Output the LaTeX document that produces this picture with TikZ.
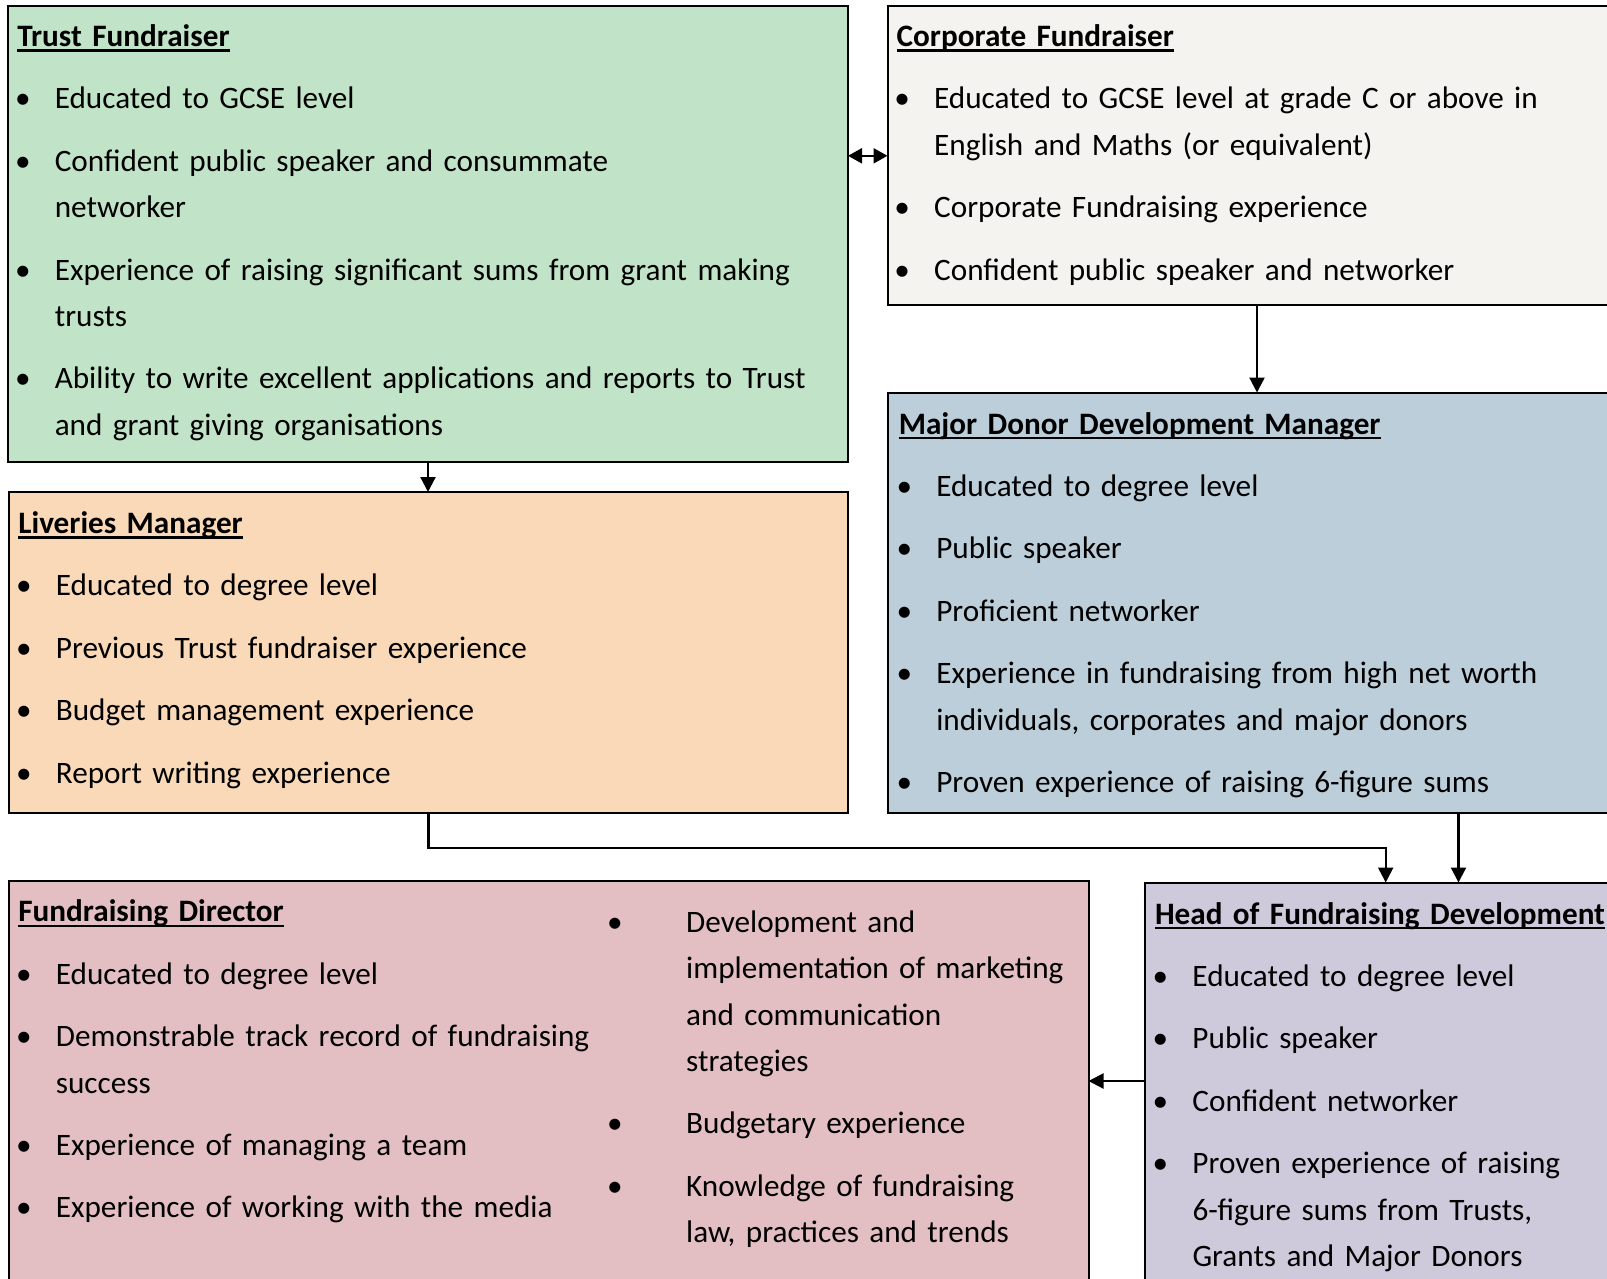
\documentclass[tikz,border=0pt]{standalone}
\usepackage{fontspec}
\setmainfont{Carlito}
\usetikzlibrary{arrows.meta,calc}
\definecolor{cTrust}{RGB}{193,228,200}
\definecolor{cCorp}{RGB}{244,243,239}
\definecolor{cLiv}{RGB}{250,217,184}
\definecolor{cMajor}{RGB}{188,206,217}
\definecolor{cDir}{RGB}{227,191,196}
\definecolor{cHead}{RGB}{207,202,219}
\newcommand\myul[1]{\sbox0{#1}\rlap{\rule[-5pt]{\wd0}{2.2pt}}\usebox0}
\newcommand\bi{\hspace*{5.5pt}\makebox[0pt]{\textbullet}\hspace*{32pt}}
\newcommand\ci{\hspace*{37.5pt}}
\newcommand\bii{\hspace*{5.5pt}\makebox[0pt]{\textbullet}\hspace*{71.2pt}}
\newcommand\cii{\hspace*{76.7pt}}
\newcommand\isep{\\[16pt]}
\begin{document}
\begin{tikzpicture}[x=1pt,y=-1pt,
  box/.style={draw=black,line width=2pt,anchor=north west,inner sep=0pt,outer sep=0pt},
  txt/.style={anchor=base west,inner sep=0pt,outer sep=0pt,text width=1000pt,align=left,
    font=\fontsize{31.2}{46.4}\selectfont},
  arr/.style={line width=2.2pt,-{Triangle[width=15pt,length=15pt]}},
  darr/.style={line width=2.2pt,{Triangle[width=15pt,length=14pt]}-{Triangle[width=15pt,length=14pt]}}]
\useasboundingbox (0,0) rectangle (1607,1278);
\fill[white] (0,0) rectangle (1607,1278);
\clip (0,0) rectangle (1607,1278);
% boxes
\node[box,fill=cTrust,minimum width=840pt,minimum height=456pt] (trust) at (8,6) {};
\node[box,fill=cCorp,minimum width=740pt,minimum height=298.5pt] (corp) at (887.5,6) {};
\node[box,fill=cLiv,minimum width=839pt,minimum height=321pt] (liv) at (9,492) {};
\node[box,fill=cMajor,minimum width=740pt,minimum height=420.5pt] (major) at (887.5,392.5) {};
\node[box,fill=cDir,minimum width=1079.5pt,minimum height=420pt] (dir) at (9,880.5) {};
\node[box,fill=cHead,minimum width=480pt,minimum height=418pt] (head) at (1144.5,882.5) {};
% texts
\node[txt] (trusttxt) at (17.3,46.5) {\myul{\textbf{Trust Fundraiser}}\isep
\bi Educated to GCSE level\isep
\bi Confident public speaker and consummate\\
\ci networker\isep
\bi Experience of raising significant sums from grant making\\
\ci trusts\isep
\bi Ability to write excellent applications and reports to Trust\\
\ci and grant giving organisations};
\node[txt] (corptxt) at (896.7,46.5) {\myul{\textbf{Corporate Fundraiser}}\isep
\bi Educated to GCSE level at grade C or above in\\
\ci English and Maths (or equivalent)\isep
\bi Corporate Fundraising experience\isep
\bi Confident public speaker and networker};
\node[txt] (livtxt) at (18.4,533.5) {\myul{\textbf{Liveries Manager}}\isep
\bi Educated to degree level\isep
\bi Previous Trust fundraiser experience\isep
\bi Budget management experience\isep
\bi Report writing experience};
\node[txt] (majortxt) at (898.8,434) {\myul{\textbf{Major Donor Development Manager}}\isep
\bi Educated to degree level\isep
\bi Public speaker\isep
\bi Proficient networker\isep
\bi Experience in fundraising from high net worth\\
\ci individuals, corporates and major donors\isep
\bi Proven experience of raising 6-figure sums};
\node[txt] (dirtxt) at (18.4,921.8) {\myul{\textbf{Fundraising Director}}\isep
\bi Educated to degree level\isep
\bi Demonstrable track record of fundraising\\
\ci success\isep
\bi Experience of managing a team\isep
\bi Experience of working with the media};
\node[txt] (dirtxtb) at (609.5,932.2) {\bii Development and\\
\cii implementation of marketing\\
\cii and communication\\
\cii strategies\isep
\bii Budgetary experience\isep
\bii Knowledge of fundraising\\
\cii law, practices and trends};
\node[txt] (headtxt) at (1155,924) {\myul{\textbf{Head of Fundraising Development}}\isep
\bi Educated to degree level\isep
\bi Public speaker\isep
\bi Confident networker\isep
\bi Proven experience of raising\\
\ci 6-figure sums from Trusts,\\
\ci Grants and Major Donors};
% connectors
\coordinate (c1) at (1257,0);
\coordinate (c2) at (1385.7,847.6);
\coordinate (c3) at (1458.5,0);
\coordinate (c4) at (0,1081);
\coordinate (c5) at (0,155.8);
\draw[darr] (trust.east |- c5) -- (corp.west |- c5);
\draw[arr] (trust.south) -- (trust.south |- liv.north);
\draw[arr] (corp.south -| c1) -- (major.north -| c1);
\draw[arr] (liv.south) |- (c2) -- (c2 |- head.north);
\draw[arr] (major.south -| c3) -- (head.north -| c3);
\draw[arr] (head.west |- c4) -- (dir.east |- c4);
\end{tikzpicture}
\end{document}
